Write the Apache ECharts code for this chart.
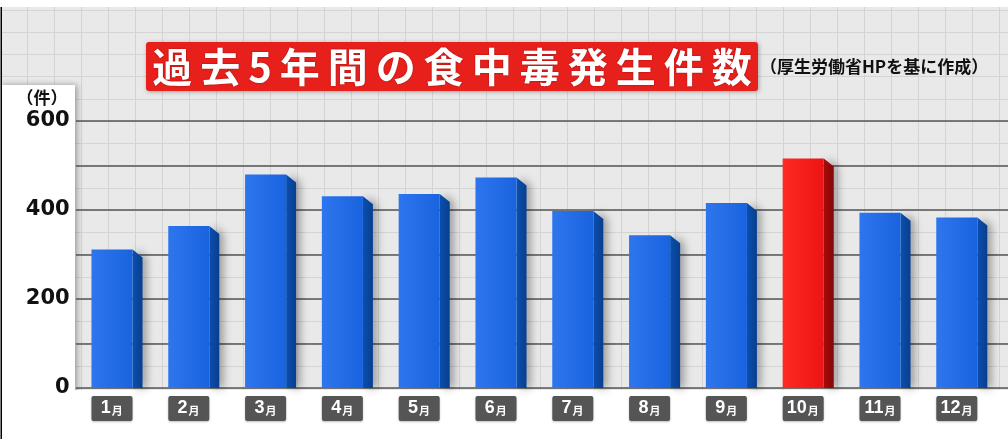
<!DOCTYPE html>
<html>
<head>
<meta charset="utf-8">
<style>
html,body{margin:0;padding:0;background:#fff;}
#chart{width:1008px;height:439px;}
</style>
<script src="https://cdn.jsdelivr.net/npm/echarts@6/dist/echarts.min.js"></script>
</head>
<body>
<div id="chart"></div>
<script>
// ---- data ----
const months = ['1月','2月','3月','4月','5月','6月','7月','8月','9月','10月','11月','12月'];
const cases = [311, 364, 480, 431, 436, 473, 398, 343, 416, 516, 394, 383];
const highlightMonth = '10月';
const yLabelValues = [0, 200, 400, 600];
const titleText = '過去5年間の食中毒発生件数';
const subtitleText = '（厚生労働省HPを基に作成）';
const unitText = '（件）';

// ---- background pattern ----
const pc = document.createElement('canvas');
pc.width = 27; pc.height = 89;
const g = pc.getContext('2d');
g.fillStyle = '#e9e9e9'; g.fillRect(0, 0, 27, 89);
g.fillStyle = '#d4d4d4';
g.fillRect(0, 0, 1, 89);
[10, 32, 54, 76].forEach(y => g.fillRect(0, y, 27, 1));

const chart = echarts.init(document.getElementById('chart'));

const blueFront = new echarts.graphic.LinearGradient(0, 0, 1, 0, [{offset:0,color:'#2d76ee'},{offset:1,color:'#1a63df'}]);
const blueSide = new echarts.graphic.LinearGradient(0, 0, 1, 0, [{offset:0,color:'#0b4fae'},{offset:1,color:'#073f8f'}]);
const redFront = new echarts.graphic.LinearGradient(0, 0, 1, 0, [{offset:0,color:'#ff2a22'},{offset:1,color:'#ec1414'}]);
const redSide = new echarts.graphic.LinearGradient(0, 0, 1, 0, [{offset:0,color:'#a80c0c'},{offset:1,color:'#860606'}]);

function renderBar(params, api) {
  const idx = api.value(0);
  const base = api.coord([idx, 0]);
  const top = api.coord([idx, api.value(1)]);
  const band = api.size([1, 0])[0];
  const bw = band * 0.535, sw = band * 0.13, so = 8;
  const cx = top[0];
  const x0 = cx - bw / 2, x1 = cx + bw / 2;
  const yb = base[1], yt = top[1];
  const name = months[idx];
  const hi = name === highlightMonth;
  const num = name.replace('月', '');
  const dw = num.length * 9.6;
  const total = dw + 1 + 11;
  const ax = cx - total / 2 + dw;
  const ly = yb + 8 + 12.5;
  return {
    type: 'group',
    children: [
      {type: 'polygon', shape: {points: [[x1, yt], [x1 + sw, yt + so], [x1 + sw, yb], [x1, yb]]},
       style: {fill: hi ? redSide : blueSide, shadowBlur: 8, shadowColor: 'rgba(0,0,0,0.35)', shadowOffsetX: 4}},
      {type: 'rect', shape: {x: x0, y: yt, width: bw, height: yb - yt},
       style: {fill: hi ? redFront : blueFront}},
      {type: 'rect', shape: {x: cx - 20.5, y: yb + 8, width: 41, height: 25, r: 2},
       style: {fill: '#555555', shadowBlur: 2, shadowColor: 'rgba(0,0,0,0.25)', shadowOffsetY: 1}},
      {type: 'text', x: ax, y: ly,
       style: {text: num, fill: '#fff', font: 'bold 18px "Liberation Sans"', align: 'right', verticalAlign: 'middle'}},
      {type: 'text', x: ax + 1, y: ly + 2,
       style: {text: '月', fill: '#fff', font: 'bold 11px "Noto Sans CJK JP"', align: 'left', verticalAlign: 'middle'}}
    ]
  };
}

const option = {
  animation: false,
  grid: [
    {left: 73.6, right: 12.8, top: 121, bottom: 51},
    {left: 76, right: 0, top: 121, bottom: 51}
  ],
  xAxis: [
    {type: 'category', gridIndex: 0, data: months,
     axisLine: {show: false}, axisTick: {show: false}, splitLine: {show: false}, axisLabel: {show: false}},
    {type: 'value', gridIndex: 1, min: 0, max: 1, show: false}
  ],
  yAxis: [
    {type: 'value', gridIndex: 0, min: 0, max: 600, interval: 100,
     axisLine: {show: false}, axisTick: {show: false}, splitLine: {show: false},
     axisLabel: {margin: 4, fontFamily: 'DejaVu Sans', fontWeight: 'bold', fontSize: 21, color: '#111',
       formatter: v => yLabelValues.indexOf(v) >= 0 ? String(v) : ''}},
    {type: 'value', gridIndex: 1, min: 0, max: 600, interval: 100,
     axisLine: {show: false}, axisTick: {show: false}, axisLabel: {show: false},
     splitLine: {show: true, lineStyle: {color: '#555', width: 1.6}}}
  ],
  series: [{
    type: 'custom', xAxisIndex: 0, yAxisIndex: 0, z: 5, clip: false,
    renderItem: renderBar,
    data: cases.map((v, i) => [i, v])
  }],
  graphic: [
    {type: 'rect', z: -10, shape: {x: 2, y: 7, width: 1006, height: 383}, style: {fill: {image: pc, repeat: 'repeat'}}},
    {type: 'rect', z: -9, shape: {x: 0, y: 85, width: 75, height: 354},
     style: {fill: '#fff', shadowBlur: 6, shadowColor: 'rgba(0,0,0,0.35)', shadowOffsetX: 2}},
    {type: 'rect', z: -8, shape: {x: 0, y: 390, width: 1008, height: 49}, style: {fill: '#fff'}},
    {type: 'rect', z: 20, shape: {x: 0.5, y: 7, width: 1.5, height: 432}, style: {fill: '#000'}},
    {type: 'rect', z: 20, shape: {x: 146, y: 42, width: 612, height: 49, r: 3},
     style: {fill: '#e8201c', shadowBlur: 4, shadowColor: 'rgba(0,0,0,0.3)', shadowOffsetX: 1, shadowOffsetY: 1}},
    {type: 'text', z: 21, x: 452, y: 67,
     style: {text: titleText.split('').join('\u2009'), fill: '#fff', font: 'bold 40px "Noto Sans CJK JP"',
       align: 'center', verticalAlign: 'middle', textShadowColor: 'rgba(90,0,0,0.6)', textShadowBlur: 2}},
    {type: 'text', z: 21, x: 760, y: 67,
     style: {text: subtitleText, fill: '#111', font: 'bold 17px "Noto Sans CJK JP"', align: 'left', verticalAlign: 'middle'}},
    {type: 'text', z: 21, x: 42, y: 98,
     style: {text: unitText, fill: '#111', font: 'bold 17px "Noto Sans CJK JP"', align: 'center', verticalAlign: 'middle'}}
  ]
};
chart.setOption(option);
</script>
</body>
</html>
